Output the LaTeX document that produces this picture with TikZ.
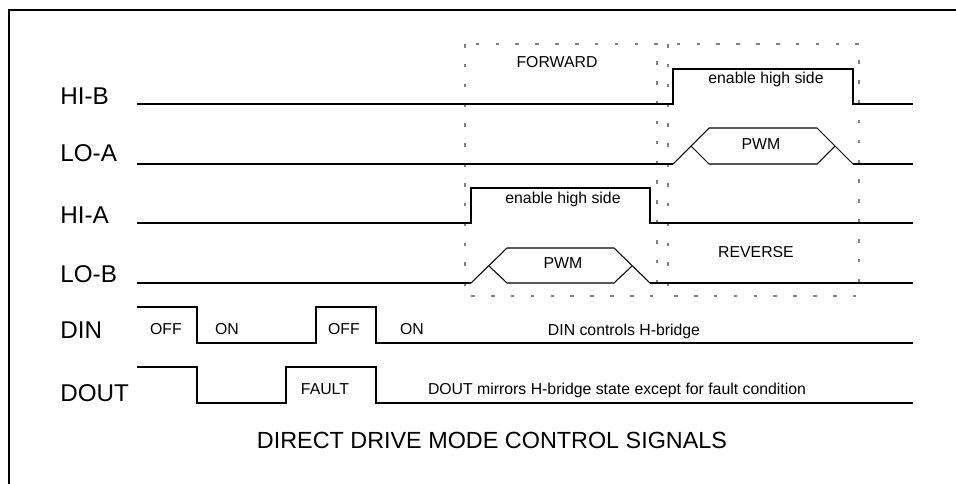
\documentclass[tikz,border=0pt]{standalone}
\usepackage{fontspec}
\setmainfont{Liberation Sans}

\tikzset{
    signame/.style={font=\fontsize{13.8}{15}\selectfont, anchor=west, inner sep=0pt},
    lbl/.style={font=\fontsize{9}{11}\selectfont, anchor=base, inner sep=0pt},
    zone/.style={gray, line width=0.6pt, dash pattern=on 2pt off 9.3pt},
    wave/.style={line width=0.6pt}
}

\begin{document}
\begin{tikzpicture}[x=0.2mm, y=-0.2mm]

    \useasboundingbox (0,0) rectangle (956,484);

    % Frame
    \draw[line width=1pt] (9,484) -- (9,10) -- (956,10);

    % Signal names
    \node[signame] (hib)  at (60,96.5) {HI-B};
    \node[signame] (loa)  at (60,153)  {LO-A};
    \node[signame] (hia)  at (60,215)  {HI-A};
    \node[signame] (lob)  at (60,274)  {LO-B};
    \node[signame] (din)  at (60,330)  {DIN};
    \node[signame] (dout) at (60,393)  {DOUT};

    % Forward and reverse zones
    \draw[zone] (465,44) rectangle (657,296);
    \draw[zone] (668,44) rectangle (859,296);
    \node[lbl] (fwd) at (557,67)  {FORWARD};
    \node[lbl] (rev) at (756,257) {REVERSE};

    % HI-B
    \draw[wave] (137,104) -- (673,104) -- (673,69) -- (853,69) -- (853,104) -- (913,104);
    \node[lbl] (hibtxt) at (766,83) {enable high side};

    % LO-A with PWM bus
    \draw[wave] (137,164) -- (673,164);
    \draw[wave] (853,164) -- (913,164);
    \begin{scope}[shift={(673,164)}]
        \draw[wave] (0,0) -- (36,-36) -- (144,-36) -- (180,0);
        \draw[wave] (18,-18) -- (36,0) -- (144,0) -- (162,-18);
        \node[lbl] (loapwm) at (88,-15) {PWM};
    \end{scope}

    % HI-A
    \draw[wave] (137,223) -- (471,223) -- (471,188) -- (650,188) -- (650,223) -- (913,223);
    \node[lbl] (hiatxt) at (563,203) {enable high side};

    % LO-B with PWM bus
    \draw[wave] (137,283) -- (471,283);
    \draw[wave] (650,283) -- (913,283);
    \begin{scope}[shift={(471,283)}]
        \draw[wave] (0,0) -- (36,-35) -- (143,-35) -- (179,0);
        \draw[wave] (18,-17) -- (36,0) -- (143,0) -- (161,-17);
        \node[lbl] (lobpwm) at (92,-15) {PWM};
    \end{scope}

    % DIN
    \draw[wave] (137,307) -- (197,307) -- (197,343) -- (316,343) -- (316,307)
        -- (376,307) -- (376,343) -- (913,343);
    \node[lbl] (off1) at (166,334) {OFF};
    \node[lbl] (on1)  at (227,334) {ON};
    \node[lbl] (off2) at (344,334) {OFF};
    \node[lbl] (on2)  at (412,334) {ON};
    \node[lbl] (dintxt) at (624,335) {DIN controls H-bridge};

    % DOUT
    \draw[wave] (137,367) -- (197,367) -- (197,403) -- (286,403) -- (286,367)
        -- (376,367) -- (376,403) -- (913,403);
    \node[lbl] (fault) at (325,394) {FAULT};
    \node[lbl] (douttxt) at (617,394) {DOUT mirrors H-bridge state except for fault condition};

    % Title
    \node[font=\fontsize{13.3}{16}\selectfont, anchor=base, inner sep=0pt] (title) at (492,448)
        {DIRECT DRIVE MODE CONTROL SIGNALS};

\end{tikzpicture}
\end{document}
